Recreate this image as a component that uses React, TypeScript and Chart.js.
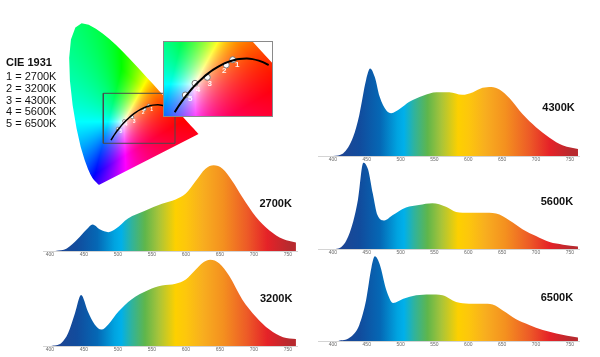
import React, { useEffect, useRef } from "react";
import { Chart, registerables } from "chart.js";
Chart.register(...registerables);

const FONT = '"Liberation Sans", Arial, sans-serif';

// ---------- spectra (wavelength nm, relative intensity) ----------
const tickNm = [400, 450, 500, 550, 600, 650, 700, 750];

const nm2700 = [408, 425, 441, 454, 463, 474, 486, 497, 515, 540, 565, 585, 600, 614, 629, 641, 654, 668, 683, 703, 723, 743, 762];
const val2700 = [0, 0.03, 0.14, 0.25, 0.31, 0.25, 0.22, 0.26, 0.38, 0.47, 0.55, 0.6, 0.67, 0.81, 0.96, 1.0, 0.96, 0.82, 0.63, 0.4, 0.24, 0.14, 0.1];

const nm3200 = [402, 417, 427, 437, 446, 456, 466, 476, 486, 501, 520, 545, 565, 585, 600, 614, 624, 636, 649, 664, 683, 703, 723, 743, 762];
const val3200 = [0, 0.035, 0.15, 0.38, 0.59, 0.4, 0.25, 0.19, 0.25, 0.4, 0.54, 0.65, 0.7, 0.72, 0.77, 0.88, 0.96, 1.0, 0.96, 0.81, 0.54, 0.34, 0.19, 0.1, 0.08];

const nm4300 = [400, 415, 430, 439, 449, 455, 462, 469, 479, 486, 499, 513, 533, 553, 572, 591, 607, 621, 634, 646, 661, 680, 700, 720, 740, 762];
const val4300 = [0, 0.03, 0.22, 0.47, 0.87, 1.0, 0.9, 0.68, 0.52, 0.49, 0.54, 0.62, 0.69, 0.73, 0.73, 0.7, 0.73, 0.78, 0.79, 0.76, 0.66, 0.48, 0.33, 0.21, 0.12, 0.08];

const nm5600 = [404, 412, 420, 430, 437, 445, 452, 459, 466, 476, 488, 508, 527, 547, 567, 582, 601, 621, 641, 661, 680, 700, 720, 740, 762];
const val5600 = [0, 0.02, 0.1, 0.32, 0.57, 1.0, 0.92, 0.64, 0.39, 0.33, 0.39, 0.48, 0.51, 0.53, 0.49, 0.43, 0.42, 0.42, 0.41, 0.33, 0.23, 0.15, 0.08, 0.05, 0.03];

const nm6500 = [408, 425, 439, 449, 457, 462, 469, 479, 489, 504, 523, 543, 562, 582, 601, 621, 636, 651, 670, 690, 710, 730, 762];
const val6500 = [0, 0.04, 0.19, 0.48, 0.87, 1.0, 0.91, 0.6, 0.45, 0.5, 0.54, 0.55, 0.54, 0.46, 0.44, 0.44, 0.43, 0.36, 0.26, 0.19, 0.13, 0.09, 0.04];

// spectral colour stops for the fill
const gradNm = [400, 440, 470, 495, 505, 520, 540, 560, 585, 600, 625, 655, 690, 720, 752];
const gradColors = ["#24428f", "#114c9d", "#0568b5", "#00a3e0", "#00b0ea", "#2fb39e", "#5fb64b", "#a7c43a", "#fdd000", "#fdc70c", "#f8ae1f", "#f4901f", "#ed5b27", "#e52228", "#b82a2f"];

// ---------- CIE 1931 ----------
const locusX = [0.1741, 0.1733, 0.1714, 0.1689, 0.1644, 0.1566, 0.144, 0.1355, 0.1241, 0.1096, 0.0913, 0.0687, 0.0454, 0.0235, 0.0082, 0.0039, 0.0139, 0.0389, 0.0743, 0.1142, 0.1547, 0.1929, 0.2296, 0.2658, 0.3016, 0.3373, 0.3731, 0.4087, 0.4441, 0.4788, 0.5125, 0.5448, 0.5752, 0.6029, 0.627, 0.6482, 0.6658, 0.6915, 0.7079, 0.719, 0.726, 0.73, 0.7334, 0.7347];
const locusY = [0.005, 0.0048, 0.0051, 0.0069, 0.0109, 0.0177, 0.0297, 0.0399, 0.0578, 0.0868, 0.1327, 0.2007, 0.295, 0.4127, 0.5384, 0.6548, 0.7502, 0.812, 0.8338, 0.8262, 0.8059, 0.7816, 0.7543, 0.7243, 0.6923, 0.6589, 0.6245, 0.5896, 0.5547, 0.5202, 0.4866, 0.4544, 0.4242, 0.3965, 0.3725, 0.3514, 0.334, 0.3083, 0.292, 0.2809, 0.274, 0.27, 0.2666, 0.2653];

const planckX = [0.2399, 0.2525, 0.2637, 0.2807, 0.2952, 0.3064, 0.3221, 0.3451, 0.3608, 0.3805, 0.4053, 0.4369, 0.4599, 0.477, 0.5056, 0.5267, 0.5496, 0.5646, 0.5857];
const planckY = [0.234, 0.2526, 0.2673, 0.2883, 0.3048, 0.3166, 0.3318, 0.3516, 0.3635, 0.3768, 0.3907, 0.4041, 0.4106, 0.4137, 0.4152, 0.4133, 0.4081, 0.4029, 0.3931];

const cctLabels = ["1", "2", "3", "4", "5"];
const cctX = [0.4534, 0.4298, 0.3598, 0.3145, 0.2788];
const cctY = [0.4113, 0.3934, 0.3519, 0.3317, 0.2922];

const zoomBoxX = [0.1967, 0.6018];
const zoomBoxY = [0.218, 0.4744];

const legendTitle = "CIE 1931";
const legendLines = ["1 = 2700K", "2 = 3200K", "3 = 4300K", "4 = 5600K", "5 = 6500K"];

// ---------- helpers ----------
function xyToRgb(x: number, y: number): [number, number, number] {
  const yy = Math.max(y, 0.002);
  const X = x / yy, Y = 1, Z = (1 - x - yy) / yy;
  let r = 3.2406 * X - 1.5372 * Y - 0.4986 * Z;
  let g = -0.9689 * X + 1.8758 * Y + 0.0415 * Z;
  let b = 0.0557 * X - 0.204 * Y + 1.057 * Z;
  const mn = Math.min(r, g, b);
  if (mn < 0) { r -= mn; g -= mn; b -= mn; }
  const mx = Math.max(r, g, b) || 1;
  return [Math.round((r / mx) * 255), Math.round((g / mx) * 255), Math.round((b / mx) * 255)];
}

const cieFill = {
  id: "cieFill",
  beforeDatasetsDraw(chart: any) {
    const meta = chart.getDatasetMeta(0);
    const pts = meta.data;
    const { ctx, chartArea: a, scales } = chart;
    const w = Math.ceil(a.right - a.left), h = Math.ceil(a.bottom - a.top);
    const off = document.createElement("canvas");
    off.width = w; off.height = h;
    const octx = off.getContext("2d")!;
    const img = octx.createImageData(w, h);
    for (let j = 0; j < h; j++) {
      const yv = scales.y.getValueForPixel(a.top + j + 0.5);
      for (let i = 0; i < w; i++) {
        const xv = scales.x.getValueForPixel(a.left + i + 0.5);
        const [r, g, b] = xyToRgb(xv, yv);
        const k = (j * w + i) * 4;
        img.data[k] = r; img.data[k + 1] = g; img.data[k + 2] = b; img.data[k + 3] = 255;
      }
    }
    octx.putImageData(img, 0, 0);
    ctx.save();
    ctx.beginPath();
    pts.forEach((p: any, k: number) => (k ? ctx.lineTo(p.x, p.y) : ctx.moveTo(p.x, p.y)));
    ctx.closePath();
    ctx.clip();
    ctx.drawImage(off, a.left, a.top);
    ctx.restore();
  },
};

const cctLabelPlugin = {
  id: "cctLabels",
  afterDatasetsDraw(chart: any, _args: any, opts: any) {
    const meta = chart.getDatasetMeta(2);
    const { ctx } = chart;
    ctx.save();
    ctx.font = opts.font;
    ctx.fillStyle = opts.color;
    ctx.textAlign = "center";
    ctx.textBaseline = "middle";
    meta.data.forEach((p: any, i: number) => {
      const o = opts.offsets[i];
      ctx.fillText(cctLabels[i], p.x + o[0], p.y + o[1]);
    });
    ctx.restore();
  },
};

function spectrumGradient(chart: any) {
  const { ctx, chartArea, scales } = chart;
  if (!chartArea || !scales.x) return "#888";
  const x0 = scales.x.getPixelForValue(gradNm[0]);
  const x1 = scales.x.getPixelForValue(gradNm[gradNm.length - 1]);
  const g = ctx.createLinearGradient(x0, 0, x1, 0);
  gradNm.forEach((n, i) => g.addColorStop((scales.x.getPixelForValue(n) - x0) / (x1 - x0), gradColors[i]));
  return g;
}

type SpecProps = { nm: number[]; val: number[]; left: number; top: number; width: number; xmin: number; xmax: number; ymax: number };

function Spectrum({ nm, val, left, top, width, xmin, xmax, ymax }: SpecProps) {
  const ref = useRef<HTMLCanvasElement>(null);
  useEffect(() => {
    const chart = new Chart(ref.current!, {
      type: "line",
      data: {
        datasets: [
          {
            data: nm.map((x, i) => ({ x, y: val[i] })),
            fill: "origin",
            borderWidth: 0,
            pointRadius: 0,
            cubicInterpolationMode: "monotone",
            backgroundColor: (c: any) => spectrumGradient(c.chart),
          } as any,
        ],
      },
      options: {
        responsive: false,
        animation: false,
        layout: { padding: 0, autoPadding: false },
        plugins: { legend: { display: false }, tooltip: { enabled: false } },
        scales: {
          x: {
            type: "linear",
            min: xmin,
            max: xmax,
            grid: { display: false, drawTicks: false },
            border: { display: true, color: "#d4d4d4", width: 1 },
            ticks: { font: { size: 5, family: FONT }, color: "#6a6a6a", padding: 1, maxRotation: 0, autoSkip: false },
            afterBuildTicks: (s: any) => { s.ticks = tickNm.map((v) => ({ value: v })); },
            afterFit: (s: any) => { s.height = 8; },
          },
          y: { display: false, min: 0, max: ymax },
        },
      } as any,
    });
    return () => chart.destroy();
  }, []);
  return <canvas ref={ref} width={width} height={98} style={{ position: "absolute", left, top }} />;
}

type CieProps = { left: number; top: number; width: number; height: number; xr: number[]; yr: number[]; inset: boolean };

function Cie({ left, top, width, height, xr, yr, inset }: CieProps) {
  const ref = useRef<HTMLCanvasElement>(null);
  useEffect(() => {
    const datasets: any[] = [
      { data: locusX.map((x, i) => ({ x, y: locusY[i] })), showLine: false, pointRadius: 0 },
      {
        data: planckX.map((x, i) => ({ x, y: planckY[i] })),
        showLine: true, borderColor: "#000", borderWidth: inset ? 2 : 1.5, pointRadius: 0, tension: 0.3,
      },
      {
        data: cctX.map((x, i) => ({ x, y: cctY[i] })),
        showLine: false, pointRadius: inset ? 3 : 1.6, pointBackgroundColor: "#fff",
        pointBorderColor: "#777", pointBorderWidth: inset ? 1 : 0.8,
      },
    ];
    if (!inset) {
      datasets.push({
        data: [
          { x: zoomBoxX[0], y: zoomBoxY[0] }, { x: zoomBoxX[1], y: zoomBoxY[0] },
          { x: zoomBoxX[1], y: zoomBoxY[1] }, { x: zoomBoxX[0], y: zoomBoxY[1] },
          { x: zoomBoxX[0], y: zoomBoxY[0] },
        ],
        showLine: true, borderColor: "#4a4a4a", borderWidth: 1, pointRadius: 0,
      });
    }
    const chart = new Chart(ref.current!, {
      type: "scatter",
      data: { datasets },
      options: {
        responsive: false,
        animation: false,
        layout: { padding: 0, autoPadding: false },
        plugins: {
          legend: { display: false },
          tooltip: { enabled: false },
          cctLabels: inset
            ? { font: `bold 8px ${FONT}`, color: "rgba(255,255,255,0.92)", offsets: [[4.5, 5], [-2, 6], [2.5, 6], [3, 6.5], [5, 4]] }
            : { font: `bold 5px ${FONT}`, color: "rgba(255,255,255,0.95)", offsets: [[3, 4], [-1.5, 4], [2, 4], [2, 4], [3, 3]] },
        },
        scales: {
          x: { type: "linear", display: false, min: xr[0], max: xr[1] },
          y: { type: "linear", display: false, min: yr[0], max: yr[1] },
        },
      } as any,
      plugins: [cieFill, cctLabelPlugin],
    });
    return () => chart.destroy();
  }, []);
  return (
    <canvas
      ref={ref}
      width={width}
      height={height}
      style={{
        position: "absolute", left, top,
        background: inset ? "#fff" : "transparent",
        outline: inset ? "1px solid #8a8a8a" : "none",
        outlineOffset: -1,
      }}
    />
  );
}

const tagStyle = (left: number, top: number): React.CSSProperties => ({
  position: "absolute", left, top, font: `bold 11px ${FONT}`, lineHeight: "12px", color: "#111", whiteSpace: "nowrap",
});

export default function App() {
  return (
    <div style={{ position: "fixed", left: 0, top: 0, width: 600, height: 357, background: "#fff", overflow: "hidden" }}>
      <Spectrum nm={nm2700} val={val2700} left={43} top={161} width={255} xmin={390} xmax={765} ymax={1.05} />
      <Spectrum nm={nm3200} val={val3200} left={43} top={256} width={255} xmin={390} xmax={765} ymax={1.043} />
      <Spectrum nm={nm4300} val={val4300} left={318} top={66} width={262} xmin={378} xmax={765} ymax={1.03} />
      <Spectrum nm={nm5600} val={val5600} left={318} top={159} width={262} xmin={378} xmax={765} ymax={1.043} />
      <Spectrum nm={nm6500} val={val6500} left={318} top={251} width={262} xmin={378} xmax={765} ymax={1.063} />

      <Cie left={60} top={10} width={150} height={185} xr={[-0.0479, 0.7995]} yr={[-0.0472, 0.9015]} inset={false} />
      <Cie left={163} top={41} width={110} height={76} xr={zoomBoxX} yr={zoomBoxY} inset={true} />

      <div style={tagStyle(6, 55.8)}>{legendTitle}</div>
      {legendLines.map((t, i) => (
        <div key={t} style={{ position: "absolute", left: 6, top: 70.1 + i * 11.75, font: `11px ${FONT}`, lineHeight: "12px", color: "#111", whiteSpace: "nowrap" }}>
          {t}
        </div>
      ))}

      <div style={tagStyle(259.5, 196.8)}>2700K</div>
      <div style={tagStyle(260, 291.8)}>3200K</div>
      <div style={tagStyle(542.3, 100.8)}>4300K</div>
      <div style={tagStyle(540.7, 195.1)}>5600K</div>
      <div style={tagStyle(540.7, 290.8)}>6500K</div>
    </div>
  );
}
